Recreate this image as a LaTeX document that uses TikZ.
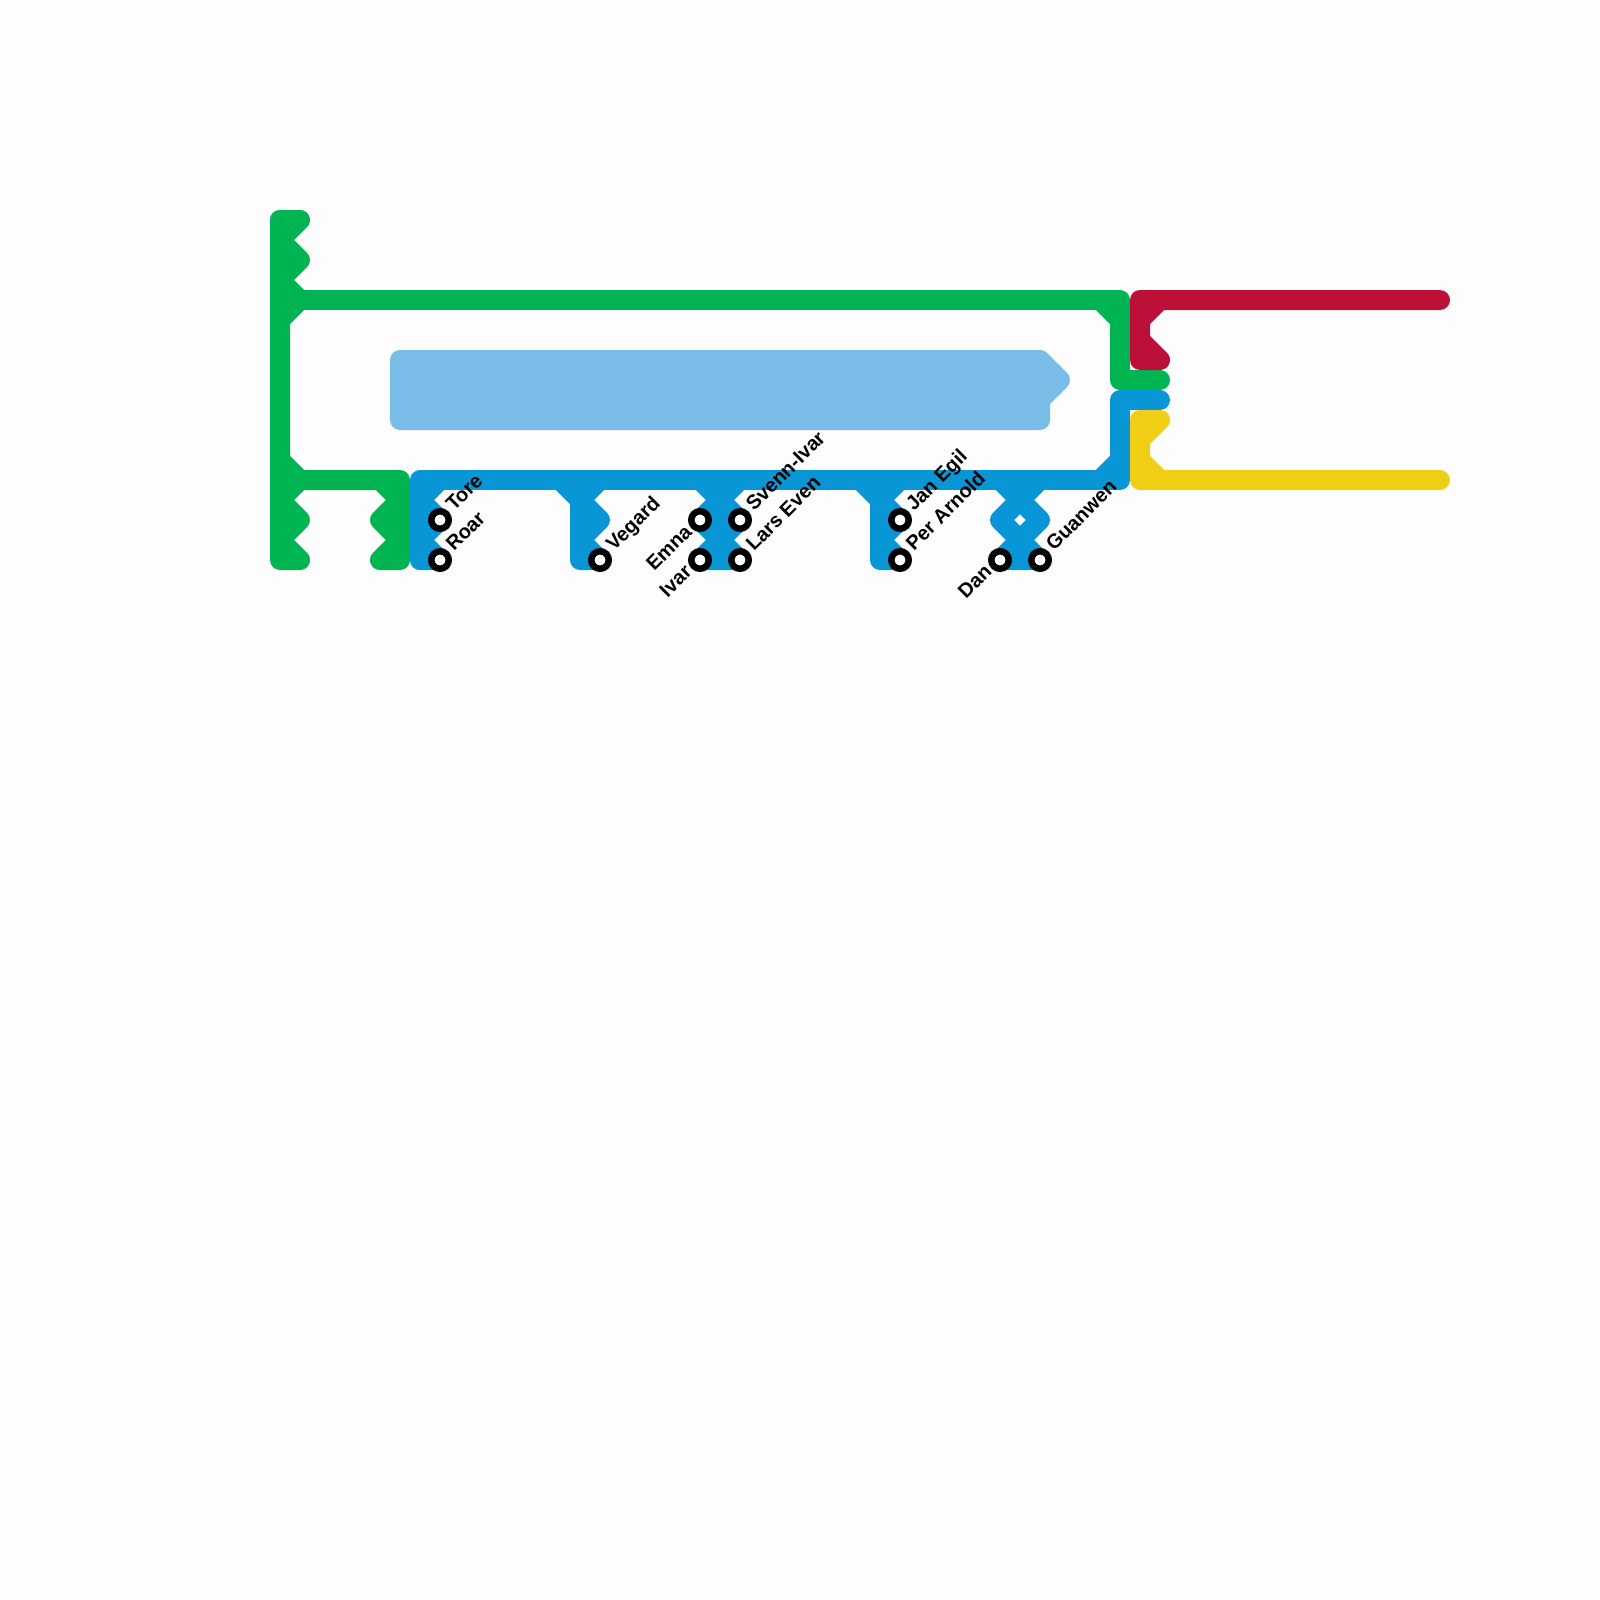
\documentclass[tikz,border=0pt]{standalone}
\usepackage{fontspec}
\setmainfont{Liberation Sans}
\usepackage{xcolor}
\usetikzlibrary{positioning}
\definecolor{pagewhite}{RGB}{253, 253, 253}
\definecolor{linegreen}{RGB}{0, 181, 81}
\definecolor{lineblue}{RGB}{8, 150, 215}
\definecolor{linesky}{RGB}{122, 188, 232}
\definecolor{linered}{RGB}{189, 16, 56}
\definecolor{lineyellow}{RGB}{240, 206, 21}
\tikzset{
    track/.style={line width=20pt, line cap=round, line join=round},
    stn/.style={circle, draw=black, fill=white, line width=6.5pt, inner sep=0pt, outer sep=0pt, minimum size=17.5pt},
    namer/.style={font=\fontsize{20}{22}\selectfont\bfseries, rotate=45, anchor=base west, inner sep=0pt, text=black},
    namel/.style={font=\fontsize{20}{22}\selectfont\bfseries, rotate=45, anchor=base east, inner sep=0pt, text=black}
}

\begin{document}
\begin{tikzpicture}[x=1pt, y=-1pt]
    \useasboundingbox[fill=pagewhite] (0,0) rectangle (1600,1600);

    % Green trunk and branches
    \draw[track, draw=linegreen] (280,220) -- (280,560) -- (300,560) -- (280,540) -- (300,520) -- (280,500) -- (300,480) -- (280,460);
    \draw[track, draw=linegreen] (280,220) -- (300,220) -- (280,240) -- (300,260) -- (280,280) -- (300,300) -- (280,320);
    \draw[track, draw=linegreen] (300,300) -- (1120,300) -- (1120,380) -- (1160,380);
    \draw[track, draw=linegreen] (1100,300) -- (1120,320);
    \draw[track, draw=linegreen] (300,480) -- (400,480) -- (400,560) -- (380,560) -- (400,540) -- (380,520) -- (400,500) -- (380,480);

    % Pale block
    \draw[track, draw=linesky, fill=linesky] (400,360) -- (1040,360) -- (1060,380) -- (1040,400) -- (1040,420) -- (400,420) -- cycle;

    % Blue main line
    \draw[track, draw=lineblue] (420,560) -- (420,480) -- (1120,480) -- (1120,400) -- (1160,400);
    \draw[track, draw=lineblue] (1100,480) -- (1120,460);
    % Blue spurs
    \draw[track, draw=lineblue] (440,480) -- (420,500) -- (440,520) -- (420,540) -- (440,560) -- (420,560);
    \draw[track, draw=lineblue] (560,480) -- (580,500) -- (580,560) -- (600,560) -- (580,540) -- (600,520) -- (580,500) -- (600,480);
    \draw[track, draw=lineblue] (720,480) -- (720,560);
    \draw[track, draw=lineblue] (700,480) -- (720,500) -- (700,520) -- (720,540) -- (700,560) -- (740,560) -- (720,540) -- (740,520) -- (720,500) -- (740,480);
    \draw[track, draw=lineblue] (860,480) -- (880,500) -- (880,560) -- (900,560) -- (880,540) -- (900,520) -- (880,500) -- (900,480);
    \draw[track, draw=lineblue] (1000,480) -- (1020,500) -- (1000,520) -- (1020,540) -- (1040,520) -- (1020,500) -- (1040,480);
    \draw[track, draw=lineblue, fill=lineblue] (1000,560) -- (1020,540) -- (1040,560) -- cycle;

    % Red and yellow lines
    \draw[track, draw=linered] (1440,300) -- (1140,300) -- (1140,360) -- (1160,360) -- (1140,340);
    \draw[track, draw=linered] (1160,300) -- (1140,320);
    \draw[track, draw=lineyellow] (1440,480) -- (1140,480) -- (1140,420) -- (1160,420) -- (1140,440);
    \draw[track, draw=lineyellow] (1160,480) -- (1140,460);

    % Stations
    \node[stn] (tore) at (440,520) {};
    \node[stn] (roar) at (440,560) {};
    \node[stn] (vegard) at (600,560) {};
    \node[stn] (emna) at (700,520) {};
    \node[stn] (ivar) at (700,560) {};
    \node[stn] (svennivar) at (740,520) {};
    \node[stn] (larseven) at (740,560) {};
    \node[stn] (janegil) at (900,520) {};
    \node[stn] (perarnold) at (900,560) {};
    \node[stn] (dan) at (1000,560) {};
    \node[stn] (guanwen) at (1040,560) {};

    % Station names
    \node[namer] (toretext) at ([shift={(14,-8)}]tore) {Tore};
    \node[namer] (roartext) at ([shift={(14,-8)}]roar) {Roar};
    \node[namer] (vegardtext) at ([shift={(14,-8)}]vegard) {Vegard};
    \node[namel] (emnatext) at ([shift={(-7,13)}]emna) {Emna};
    \node[namel] (ivartext) at ([shift={(-7,13)}]ivar) {Ivar};
    \node[namer] (svennivartext) at ([shift={(14,-8)}]svennivar) {Svenn-Ivar};
    \node[namer] (larseventext) at ([shift={(14,-8)}]larseven) {Lars Even};
    \node[namer] (janegiltext) at ([shift={(14,-8)}]janegil) {Jan Egil};
    \node[namer] (perarnoldtext) at ([shift={(14,-8)}]perarnold) {Per Arnold};
    \node[namel] (dantext) at ([shift={(-7,13)}]dan) {Dan};
    \node[namer] (guanwentext) at ([shift={(14,-8)}]guanwen) {Guanwen};
\end{tikzpicture}
\end{document}
